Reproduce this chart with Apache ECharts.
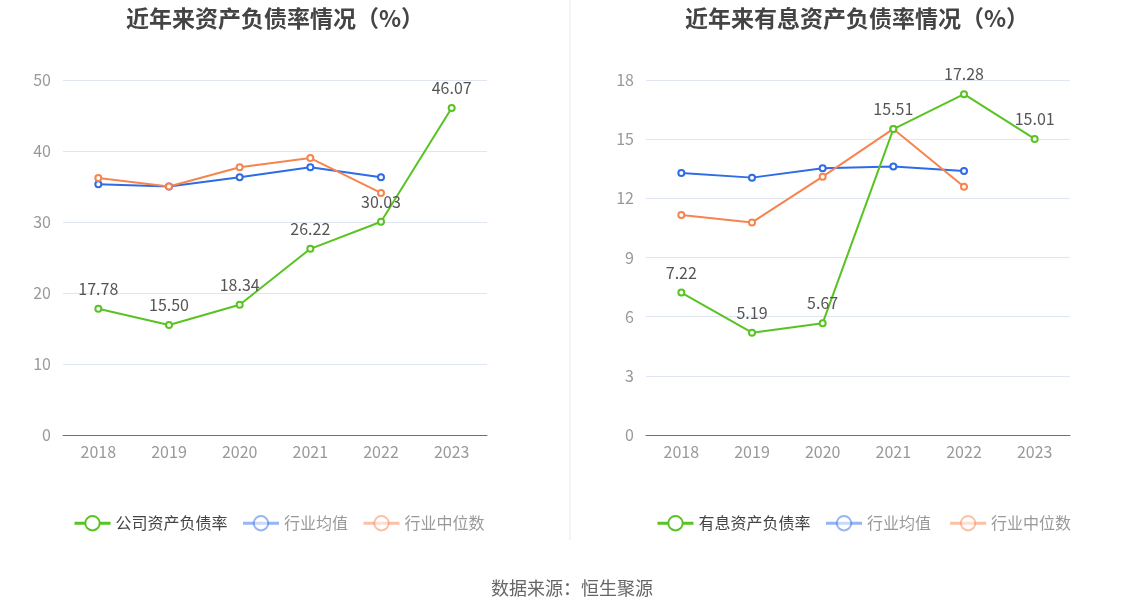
<!DOCTYPE html>
<html><head><meta charset="utf-8">
<script src="https://cdn.jsdelivr.net/npm/echarts@6/dist/echarts.min.js"></script>
<style>html,body{margin:0;padding:0;background:#fff}#c{width:1134px;height:612px}</style>
</head><body><div id="c"></div>
<script>
const years = ['2018','2019','2020','2021','2022','2023'];
const leftCompany = [17.78, 15.50, 18.34, 26.22, 30.03, 46.07];
const leftAvg = [35.3, 35.0, 36.3, 37.7, 36.3, null];
const leftMedian = [36.2, 35.0, 37.7, 39.0, 34.1, null];
const rightCompany = [7.22, 5.19, 5.67, 15.51, 17.28, 15.01];
const rightAvg = [13.29, 13.05, 13.52, 13.61, 13.39, null];
const rightMedian = [11.16, 10.78, 13.1, 15.52, 12.59, null];
const leftTicks = {min:0, max:50, interval:10};
const rightTicks = {min:0, max:18, interval:3};

const GREEN='#58c322', BLUE='#2e6be6', ORANGE='#f7844f';
const font = '"Noto Sans CJK SC", "Noto Sans", sans-serif';

function xAxis(i){return {type:'category',gridIndex:i,data:years,boundaryGap:true,
  axisLine:{lineStyle:{color:'#6e7079'}},axisTick:{alignWithLabel:true,lineStyle:{color:'#6e7079'}},
  axisLabel:{color:'#999',fontSize:16,margin:9,fontFamily:font}};}
function yAxis(i,t){return {type:'value',gridIndex:i,min:t.min,max:t.max,interval:t.interval,
  axisLine:{show:false},axisTick:{show:false},
  splitLine:{lineStyle:{color:'#e0e6f1'}},
  axisLabel:{color:'#999',fontSize:16,margin:12,fontFamily:font}};}
function line(name,data,color,i,label){return {name,type:'line',xAxisIndex:i,yAxisIndex:i,data,
  symbol:'emptyCircle',symbolSize:6,lineStyle:{width:2,color},itemStyle:{color,borderWidth:2},
  label:{show:label,position:'top',distance:8,color:'#555',fontSize:16,fontFamily:font,formatter:p=>p.value.toFixed(2)},
  z:label?3:2};}
function legendItem(name,faded){return faded?{name,itemStyle:{opacity:0.5},lineStyle:{opacity:0.5,width:3},textStyle:{color:'#999'}}:{name,lineStyle:{width:3},textStyle:{color:'#444'}};}

const chart = echarts.init(document.getElementById('c'));
chart.setOption({
  animation:false,
  title:[
    {text:'近年来资产负债率情况（%）',left:270,top:2,textAlign:'center',textStyle:{fontSize:23,fontWeight:'bold',color:'#444',fontFamily:font}},
    {text:'近年来有息资产负债率情况（%）',left:852,top:2,textAlign:'center',textStyle:{fontSize:23,fontWeight:'bold',color:'#444',fontFamily:font}},
    {text:'数据来源：恒生聚源',left:567,top:574,textAlign:'center',textStyle:{fontSize:18,fontWeight:'normal',color:'#666',fontFamily:font}}
  ],
  grid:[{left:63,width:424,top:80,height:355},{left:646,width:424,top:80,height:355}],
  xAxis:[xAxis(0),xAxis(1)],
  yAxis:[yAxis(0,leftTicks),yAxis(1,rightTicks)],
  legend:[
    {left:68,top:510,itemWidth:36,itemHeight:18,itemGap:14,textStyle:{fontSize:16,fontFamily:font},
     data:[legendItem('公司资产负债率',false),legendItem('行业均值',true),legendItem('行业中位数',true)],
     selectedMode:false},
    {left:651,top:510,itemWidth:36,itemHeight:18,itemGap:14,textStyle:{fontSize:16,fontFamily:font},
     data:[legendItem('有息资产负债率',false),legendItem('行业均值 ',true),legendItem('行业中位数 ',true)],
     selectedMode:false}
  ],
  graphic:[{type:'line',shape:{x1:570,y1:0,x2:570,y2:540},style:{stroke:'#e8e8e8',lineWidth:1}}],
  series:[
    line('行业均值',leftAvg,BLUE,0,false),
    line('行业中位数',leftMedian,ORANGE,0,false),
    line('公司资产负债率',leftCompany,GREEN,0,true),
    line('行业均值 ',rightAvg,BLUE,1,false),
    line('行业中位数 ',rightMedian,ORANGE,1,false),
    line('有息资产负债率',rightCompany,GREEN,1,true)
  ]
});
</script></body></html>
